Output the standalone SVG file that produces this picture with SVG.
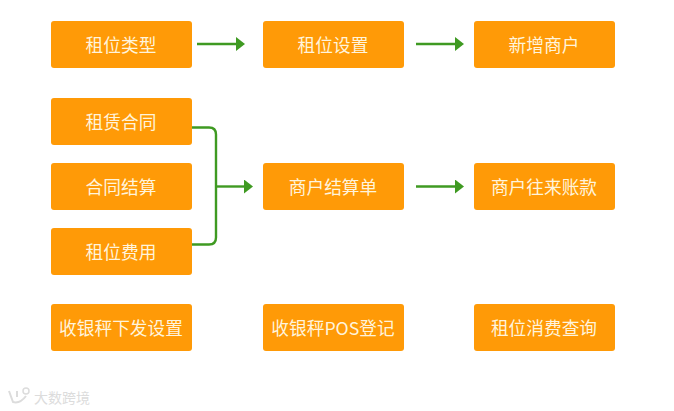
<svg xmlns="http://www.w3.org/2000/svg" width="674" height="411" viewBox="0 0 674 411">
<style>
.n rect{fill:#ff9a07}
.n text{fill:#fff4dc;font-family:"Noto Sans CJK SC","Liberation Sans",sans-serif;font-size:17.700px;text-anchor:middle;dominant-baseline:central}
.c{fill:none;stroke:#3f9a22;stroke-width:2.4}
.wm{fill:#dcdcdc;font-family:"Noto Sans CJK SC",sans-serif;font-size:14px}
</style>
<defs><marker id="a" markerUnits="userSpaceOnUse" markerWidth="9" markerHeight="14" refX="0" refY="7" orient="auto"><path d="M0 0L9 7L0 14Z" fill="#3f9a22"/></marker></defs>
<rect width="674" height="411" fill="#fff"/>
<g id="connectors">
<path class="c" d="M197 44H236" marker-end="url(#a)"/>
<path class="c" d="M416 44H455" marker-end="url(#a)"/>
<path class="c" d="M192 127.500H209Q216 127.500 216 134.500V237.500Q216 244.500 209 244.500H192"/>
<path class="c" d="M216 186.500H244" marker-end="url(#a)"/>
<path class="c" d="M416 186.500H455" marker-end="url(#a)"/>
</g>
<g id="n1" class="n"><rect x="51" y="21" width="141" height="47" rx="3"/><text x="121" y="44">租位类型</text></g>
<g id="n2" class="n"><rect x="263" y="21" width="141" height="47" rx="3"/><text x="333" y="44">租位设置</text></g>
<g id="n3" class="n"><rect x="474" y="21" width="141" height="47" rx="3"/><text x="544" y="44">新增商户</text></g>
<g id="n4" class="n"><rect x="51" y="98" width="141" height="47" rx="3"/><text x="121" y="121">租赁合同</text></g>
<g id="n5" class="n"><rect x="51" y="163" width="141" height="47" rx="3"/><text x="121" y="186">合同结算</text></g>
<g id="n6" class="n"><rect x="51" y="228" width="141" height="47" rx="3"/><text x="121" y="251">租位费用</text></g>
<g id="n7" class="n"><rect x="263" y="163" width="141" height="47" rx="3"/><text x="333" y="186">商户结算单</text></g>
<g id="n8" class="n"><rect x="474" y="163" width="141" height="47" rx="3"/><text x="544" y="186">商户往来账款</text></g>
<g id="n9" class="n"><rect x="51" y="304" width="141" height="47" rx="3"/><text x="121" y="327">收银秤下发设置</text></g>
<g id="n10" class="n"><rect x="263" y="304" width="141" height="47" rx="3"/><text x="333" y="327">收银秤POS登记</text></g>
<g id="n11" class="n"><rect x="474" y="304" width="141" height="47" rx="3"/><text x="544" y="327">租位消费查询</text></g>
<text class="wm" x="34" y="403">大数跨境</text>
<path d="M9 391L13 402Q20 404 26 396M17 391L17 397" fill="none" stroke="#dcdcdc" stroke-width="2"/>
<circle cx="26" cy="391" r="3" fill="none" stroke="#dcdcdc" stroke-width="1.500"/>
</svg>
